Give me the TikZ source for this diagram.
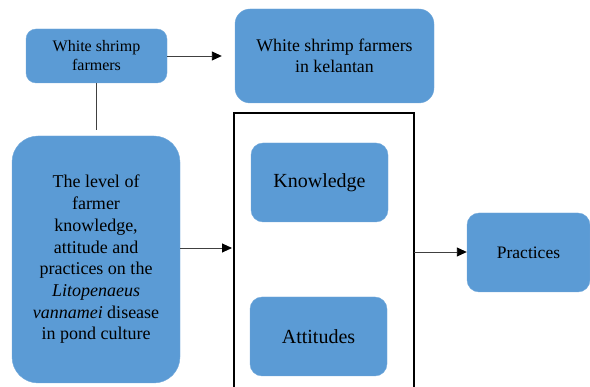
\documentclass[tikz,border=0pt]{standalone}
\usepackage{fontspec}
\setmainfont{Liberation Serif}
\newfontfamily\timesfont{Liberation Serif}
\usepackage{xcolor}
\usepackage{tikz}
\usetikzlibrary{positioning, arrows.meta}

\definecolor{boxblue}{HTML}{5B9BD5}

\begin{document}
\begin{tikzpicture}[
    x=1pt, y=-1pt,
    box/.style={fill=boxblue, draw=boxblue!85!white, rounded corners=10pt, inner sep=0pt, align=center, text=black},
    conn/.style={draw=black!75, line width=0.9pt},
    arr/.style={conn, -{Triangle[length=10pt, width=9pt, color=black]}}
]
\useasboundingbox (0,0) rectangle (590,387);

\node[box, minimum width=141pt, minimum height=54pt, font=\timesfont\fontsize{16}{19}\selectfont] (farmers) at (96.5,56) {White shrimp\\farmers};
\node[box, minimum width=199pt, minimum height=94pt, rounded corners=15pt, font=\timesfont\fontsize{17.8}{21}\selectfont] (kelantan) at (334.5,56) {White shrimp farmers\\in kelantan};
\node[box, minimum width=168pt, minimum height=247pt, rounded corners=26pt, font=\timesfont\fontsize{18}{21.7}\selectfont] (level) at (96,259.5)
    {The level of\\farmer\\knowledge,\\attitude and\\practices on the\\\textit{Litopenaeus}\\\textit{vannamei} disease\\in pond culture};
\node[box, minimum width=137pt, minimum height=79pt, rounded corners=12pt, font=\timesfont\fontsize{20}{22}\selectfont] (knowledge) at (319.5,182.5) {Knowledge};
\node[box, minimum width=137pt, minimum height=79pt, rounded corners=12pt, font=\timesfont\fontsize{20}{22}\selectfont] (attitudes) at (318.5,336.5) {Attitudes};
\node[box, minimum width=123pt, minimum height=79pt, rounded corners=12pt, font=\timesfont\fontsize{17.5}{21}\selectfont] (practices) at (528.5,252.5) {Practices};

% frame round knowledge and attitudes, open at the bottom
\draw[black, line width=1.2pt] (234,392) |- (414,113) -- (414,392);
\coordinate (frameL) at (234,248);
\coordinate (frameR) at (414,252);

\draw[arr, shorten >=13pt] (farmers) -- (kelantan);
\draw[conn, shorten >=6pt] (farmers.south) -- (farmers.south |- level.north);
\draw[arr, shorten >=2pt] (level.east |- frameL) -- (frameL);
\draw[arr] (frameR) -- (practices.west |- frameR);
\end{tikzpicture}
\end{document}
